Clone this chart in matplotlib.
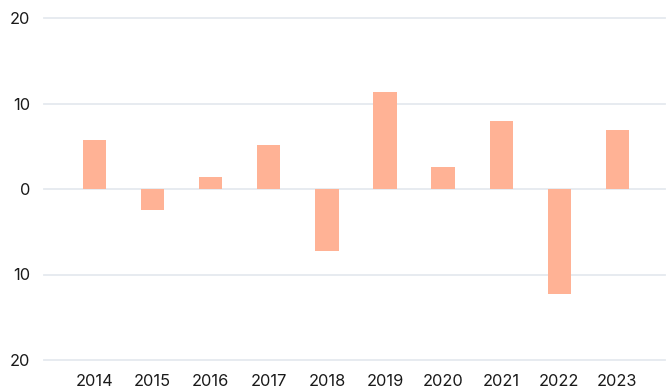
import matplotlib.pyplot as plt
from matplotlib.ticker import FuncFormatter

years = ['2014', '2015', '2016', '2017', '2018', '2019', '2020', '2021', '2022', '2023']
values = [5.7, -2.5, 1.35, 5.2, -7.3, 11.4, 2.6, 7.9, -12.3, 6.85]
y_ticks = [-20, -10, 0, 10, 20]

plt.rcParams['font.family'] = ['Inter', 'DejaVu Sans']

fig = plt.figure(figsize=(6.69, 3.89), dpi=100)
ax = fig.add_axes([44 / 669, 29 / 389, 621 / 669, 342 / 389])

x = list(range(len(years)))
ax.bar(x, values, width=0.4, color='#FFB295', zorder=2)

ax.set_ylim(-20, 20)
ax.set_xlim(-0.871, 9.82)
ax.set_yticks(y_ticks)
# show magnitudes only on the axis
ax.yaxis.set_major_formatter(FuncFormatter(lambda v, _: f'{abs(v):.0f}'))
ax.set_xticks(x)
ax.set_xticklabels(years)

ax.grid(axis='y', color='#E5E9EF', linewidth=1.3, zorder=0)
for gl in ax.get_ygridlines():
    gl.set_clip_on(False)
for s in ax.spines.values():
    s.set_visible(False)

ax.tick_params(axis='both', length=0, labelsize=11.8, colors='#1a1a1a')
ax.tick_params(axis='y', pad=10)
ax.tick_params(axis='x', pad=10)

fig.savefig('out.png', dpi=100)
